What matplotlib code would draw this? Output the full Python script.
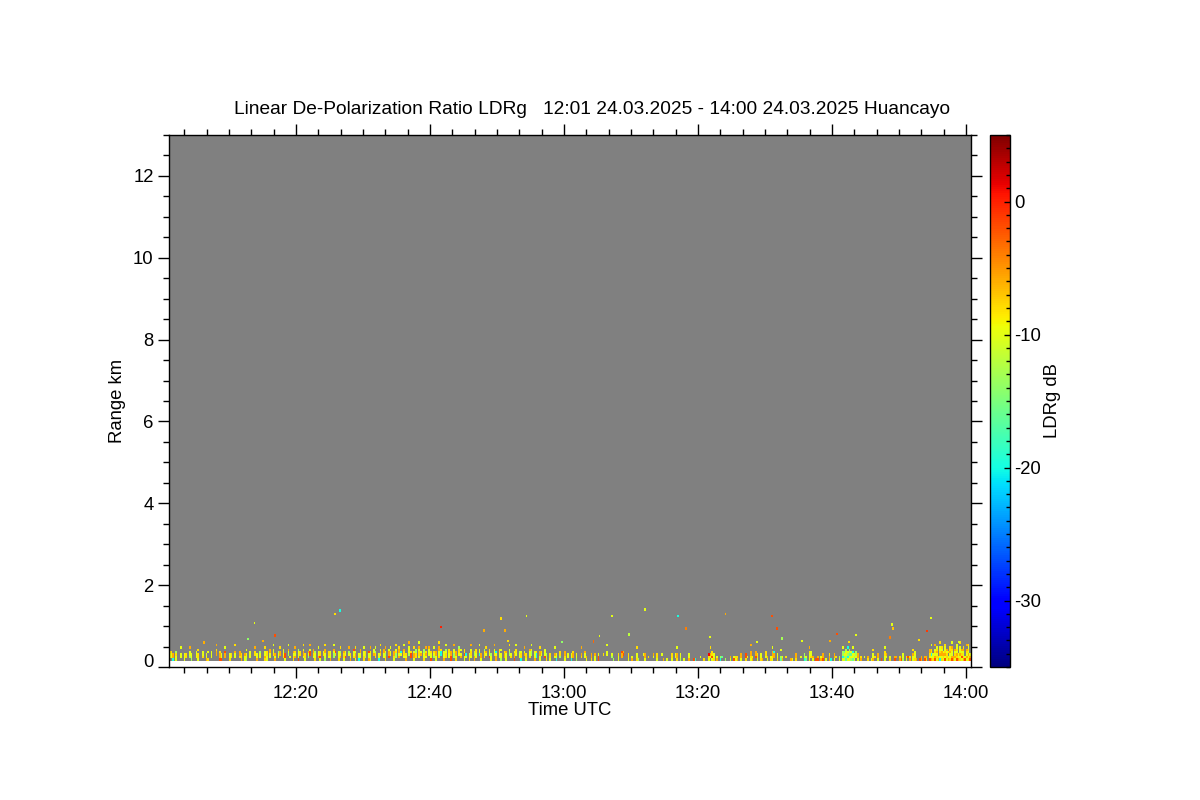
import numpy as np
import matplotlib
matplotlib.use("Agg")
import matplotlib.pyplot as plt
from matplotlib.colors import Normalize
from matplotlib.ticker import FixedLocator, MultipleLocator, FuncFormatter

plt.rcParams['font.family'] = ['Liberation Sans', 'DejaVu Sans']
plt.rcParams['axes.unicode_minus'] = False

# ---------------- data ----------------
TITLE = "Linear De-Polarization Ratio LDRg   12:01 24.03.2025 - 14:00 24.03.2025 Huancayo"
X_LABEL = "Time UTC"
Y_LABEL = "Range km"
CB_LABEL = "LDRg dB"

# time in minutes after 12:00 UTC
TIME_START = 1.0
TIME_STEP = 0.25
N_TIME = 480
X_LIMITS = (1.04, 120.75)
X_MAJOR = [20, 40, 60, 80, 100, 120]
Y_MAJOR = [0, 2, 4, 6, 8, 10, 12]
Y_LIMITS = (0, 13)
CB_LIMITS = (-35, 5)
CB_MAJOR = [-30, -20, -10, 0]

# range gate edges (km); last gate is an empty one up to the top
RANGE_EDGES = [0.15, 0.21, 0.27, 0.33, 0.39, 0.45, 0.51, 0.57, 0.63, 13.0]

# colour classes (dB)
CODE = {'y': -10, 'a': -8, 'o': -6, 'r': -2, 'R': 1,
        'g': -13, 'l': -16, 'c': -20, 'b': -24, 'B': -30}

# low-level LDR speckle, 15-minute segments of 60 quarter-minute columns.
# one token per column, gates listed bottom -> top ('.' = no echo),
# a digit n stands for n empty columns
SEG_1201 = ("ryyc.r .yya coo 1 yyag 2 .yy..y 1 yyy .aa 1 .gyy.o gyy 2 .yyy yaa.a 2 "
            ".ayy 1 oyy a..y 1 .yyy 2 ..ooa.o 1 rooa ryy 1 .oor.y 2 ayy .aa 1 "
            ".yyo..a 2 .aoo oaa 1 yyo gyy.y 1 .yyy 2 ..aa.o oyy 1 .yyg 2 aoyy.a "
            "yyaa 1")
SEG_1216 = (".yyoo 1 ..ayy.y oyo 1 .yyg ..oo.a 1 .ayyy yrr 1 ..gyo.y .y 1 aayo "
            ".oya.o 1 ryyyg ..aa 1 .yooy.a yaa 1 .gyo ..rry.o 1 .yaoo ayyg 1 "
            ".oyy.y yraa 1 ..ay gyyoo.a 1 .yaa oyyy 1 .ggyo.y ..ar 1 ayyy .oyg.a 1 "
            "yaao .ryy 1 ..yg.o oya 1 .ayyr yooy.a 1 cyy .yyoo 1 aayy.y .gaa 1 oyyr")
SEG_1231 = ("yyya.o 1 ..oyy .aag.y 1 cyy ..aoy.a 1 .yyoo aagy.o 1 .rooy ..yy.y 1 "
            "yaoo .ggay.a 1 .oyooa ..yc 1 .yaao.y oya 1 ..gyyy.o .rra 1 yooy.a "
            ".aagg 1 .yaayo.y ..oy 1 ayygg .yoa.o 1 ..yyyo ryya 1 .gya.y yyoo 1 "
            ".ayyoo.a ..cca 1 oyyy .aayg.y 1 .yyaa rroo 1 .ggyy.o ayoo 1 ..yaag "
            ".oy.y 1 yyraa .yc 1 ayy")
SEG_1246 = (".yaay.o 1 oogg .yyaa 1 ..cyy.y yoo 1 .aayg ..yo.a 1 .ryya yyg 1 "
            "..ayy.o ooyc 1 .yyaa gyy.y 1 .ooa yyyo 1 ..ggy.a .ay 1 rooy ..yaa.y 1 "
            ".yyg caay 1 ..oy.o yaa 1 .ayyo ..ggy.y 1 oyyy .cca 1 yyoo.a ..ya 1 "
            ".ryyy agg 1 yaa 2 .yo..y cyy 1 .gaa 2 yaoo 1 .yy 1")
SEG_1301 = ("cyy .ooa 1 gyy 2 .ao..o 1 .yyo yo 2 aoo 1 yyo 1 rry 2 ..a 1 ..yy..y 2 "
            ".gy g 2 yya 1 .oor ..ro 2 yaa 1 oy 2 ayy..a g 2 ..y yoo 1 .a 2 .yo 1 "
            "yaa 2 ..y o 1 y 2")
SEG_1316 = ("yaa 1 .yy aoo..y 1 gyy 1 y 2 oyy 2 r c 2 .y 1 a 2 yaR .yo..a yraa ayy 1 "
            "oy 1 cg .l 1 g 2 yo 1 ry ya oa 1 yoo 2 arr .y 1 yaoo..o oy 1 .roo "
            "yaa 1 ayy o 1 .yaa yo 1 ay")
SEG_1331 = ("yaoo.y .ooc 1 ayy 1 lg..y oy 1 .a 2 o y 1 aoo 2 .y 1 cgg ly 1 yyya.o "
            ".ayy yo 1 r ro 1 oy roo 1 y 1 ooa c 1 yoo .a 1 yg 1 ycgg.y ygyl "
            "lgyyg ycgy.c yylgg gyly lyyc.y ygy .ygg yoo 1 oa 1 .y 1 ao 1 y")
SEG_1346 = ("oyy.a .a 1 yoo 1 r 1 yyaa.y .yo 1 ay 2 ro .o 1 oa r gyy 1 ya .r oa 1 "
            "yyo.a ayyy o 1 r oo 1 ro ao 1 ryaoo oycaa.y ayy royay.o yayoay oa "
            "cyoayy.a ayooya yaoy ryoayya yaayo oy.a ayyoaa royyao.y oo yoayo "
            "raoyayy oyy ayoyyy.a yrayo oayyoa ry yoyao.o ayoyaya roy yaoyy")
SEGMENTS = [SEG_1201, SEG_1216, SEG_1231, SEG_1246,
            SEG_1301, SEG_1316, SEG_1331, SEG_1346]

# isolated echoes above the layer: time (min after 12:00), range (km), LDR (dB)
SPOT_T = [13.8, 25.8, 26.6, 16.9, 12.8, 6.3, 15.1, 41.7, 50.6, 54.4, 48.0, 51.2,
          51.7, 59.7, 72.1, 67.2, 77.05, 84.1, 78.2, 65.3, 69.7, 81.8, 64.4, 88.8,
          91.1, 91.8, 100.8, 103.6, 109.0, 109.1, 108.6, 114.8, 114.2, 95.5, 92.5,
          99.65, 102.5, 113.0, 118.9]
SPOT_H = [1.07, 1.29, 1.38, 0.77, 0.69, 0.60, 0.64, 0.98, 1.19, 1.24, 0.89, 0.89,
          0.64, 0.61, 1.41, 1.25, 1.24, 1.29, 0.94, 0.76, 0.79, 0.73, 0.62, 0.61,
          1.24, 0.94, 0.80, 0.78, 1.04, 0.94, 0.72, 1.20, 0.88, 0.64, 0.70,
          0.64, 0.61, 0.66, 0.61]
SPOT_V = [-10, -8, -20, -2, -14, -6, -6, 0, -8, -10, -6, -6,
          -8, -14, -10, -10, -20, -6, -4, -10, -12, -10, -3, -10,
          -2, -2, -2, -10, -10, -7, -4, -10, -1, -10, -13,
          -6, -8, -8, -10]

# ---------------- build grid ----------------
n_gates = len(RANGE_EDGES) - 1
Z = np.full((n_gates, N_TIME), np.nan)
col = 0
for seg in SEGMENTS:
    cols = []
    for tok in seg.split():
        if tok.isdigit():
            cols.extend([''] * int(tok))
        else:
            cols.append(tok)
    cols = (cols + [''] * 60)[:60]
    for tok in cols:
        for r, ch in enumerate(tok[:n_gates - 1]):
            if ch in CODE:
                Z[r, col] = CODE[ch]
        col += 1
t_edges = TIME_START + TIME_STEP * np.arange(N_TIME + 1)

cmap = plt.get_cmap('jet').copy()
cmap.set_bad('#808080')
norm = Normalize(*CB_LIMITS)

# ---------------- figure ----------------
fig = plt.figure(figsize=(12, 8), dpi=100)
ax = fig.add_axes([169 / 1200, 133 / 800, 802 / 1200, 532 / 800])
cax = fig.add_axes([990 / 1200, 133 / 800, 20 / 1200, 532 / 800])

mesh = ax.pcolormesh(t_edges, RANGE_EDGES, np.ma.masked_invalid(Z), cmap=cmap,
                     norm=norm, shading='flat', edgecolors='none',
                     antialiased=False, rasterized=True)
ax.bar(SPOT_T, 0.06, width=0.28, bottom=np.array(SPOT_H) - 0.03,
       color=cmap(norm(np.array(SPOT_V))), linewidth=0, zorder=3)

ax.set_xlim(*X_LIMITS)
ax.set_ylim(*Y_LIMITS)
ax.xaxis.set_major_locator(FixedLocator(X_MAJOR))
ax.xaxis.set_minor_locator(MultipleLocator(20 / 6))
ax.yaxis.set_major_locator(FixedLocator(Y_MAJOR))
ax.yaxis.set_minor_locator(MultipleLocator(0.5))


def hhmm(x, pos=None):
    m = int(round(x))
    return f"{12 + m // 60}:{m % 60:02d}"


FS = 13.3
ax.xaxis.set_major_formatter(FuncFormatter(hhmm))
ax.tick_params(which='both', direction='out', top=True, right=True,
               labelsize=FS, colors='black', width=1)
ax.tick_params(which='major', length=8)
ax.tick_params(which='minor', length=4)
ax.tick_params(axis='x', which='major', pad=5)
ax.tick_params(axis='y', which='major', pad=3)
for sp in ax.spines.values():
    sp.set_linewidth(1)
ax.set_xlabel(X_LABEL, fontsize=FS, labelpad=0)
ax.set_ylabel(Y_LABEL, fontsize=FS, labelpad=5)
ax.get_yticklabels()[0].set_verticalalignment('baseline')

cb = fig.colorbar(mesh, cax=cax)
cb.set_ticks(CB_MAJOR)
cb.ax.yaxis.set_minor_locator(MultipleLocator(1))
cb.ax.tick_params(which='both', direction='in', right=True, left=False,
                  labelsize=FS, width=1, pad=3)
cb.ax.tick_params(which='major', length=4)
cb.ax.tick_params(which='minor', length=3)
cb.outline.set_linewidth(1)
cb.set_label(CB_LABEL, fontsize=FS, labelpad=2)

fig.text(592 / 1200, 1 - 110 / 800, TITLE, ha='center', va='center', fontsize=13.8)

fig.savefig("out.png", dpi=100, facecolor='white')
